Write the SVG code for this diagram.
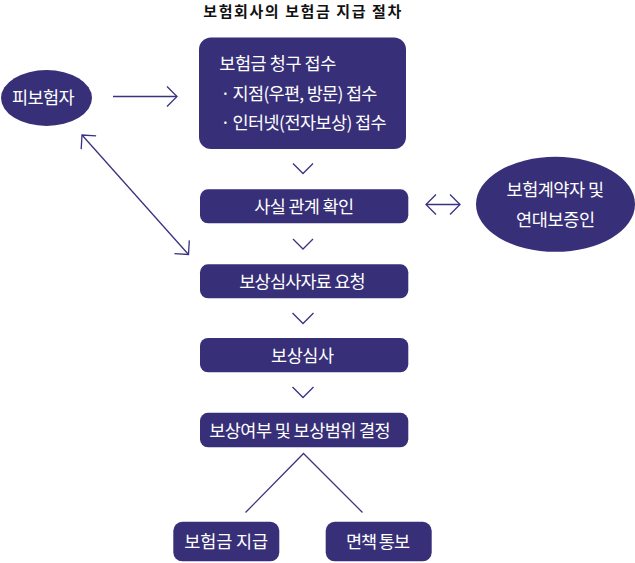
<svg xmlns="http://www.w3.org/2000/svg" width="635" height="563" viewBox="0 0 635 563">
<style>
.node{fill:#372f78;}
.t{font-family:"Noto Sans CJK KR","Noto Sans",sans-serif;font-size:17.5px;fill:#ffffff;}
.title{font-family:"Noto Sans CJK KR","Noto Sans",sans-serif;font-size:15px;font-weight:bold;fill:#111111;}
.ln{fill:none;stroke:#3a3380;stroke-width:1.3;}
</style>
<defs>
<marker id="ah" viewBox="-12 -12 14 24" markerWidth="14" markerHeight="24" refX="0" refY="0" orient="auto-start-reverse" markerUnits="userSpaceOnUse">
<path d="M-10,-10 L0,0 L-10,10" fill="none" stroke="#3a3380" stroke-width="1.3"/>
</marker>
</defs>
<rect width="635" height="563" fill="#ffffff"/>
<text class="title" x="203.3" y="17" textLength="198" lengthAdjust="spacing">보험회사의 보험금 지급 절차</text>

<g id="connectors">
<line class="ln" x1="113" y1="96.5" x2="177" y2="96.5" marker-end="url(#ah)"/>
<line class="ln" x1="82" y1="135" x2="188.5" y2="254.5" marker-start="url(#ah)" marker-end="url(#ah)"/>
<line class="ln" x1="426" y1="204.5" x2="460" y2="204.5" marker-start="url(#ah)" marker-end="url(#ah)"/>
<polyline class="ln" points="293,163.5 303,173.5 313,163.5"/>
<polyline class="ln" points="293,239 303,249 313,239"/>
<polyline class="ln" points="292.5,313 303,323.5 313.5,313"/>
<polyline class="ln" points="292.5,387 303,397.5 313.5,387"/>
<polyline class="ln" points="245.5,512.5 303.5,453.5 362.5,512.5"/>
</g>

<g id="node-insured">
<ellipse class="node" cx="46.5" cy="98" rx="45.5" ry="28"/>
<text class="t" x="12" y="104" textLength="62.7" lengthAdjust="spacing">피보험자</text>
</g>

<g id="node-claim">
<rect class="node" x="199" y="37.5" width="207" height="111.5" rx="12"/>
<text class="t" x="219.3" y="70" textLength="117" lengthAdjust="spacing">보험금 청구 접수</text>
<text class="t" x="220.5" y="99.5">·</text>
<text class="t" x="232.6" y="99.5" textLength="144.8" lengthAdjust="spacing">지점(우편, 방문) 접수</text>
<text class="t" x="220.5" y="129">·</text>
<text class="t" x="232.6" y="129" textLength="154" lengthAdjust="spacing">인터넷(전자보상) 접수</text>
</g>

<g id="node-fact">
<rect class="node" x="200" y="189.3" width="208.3" height="34" rx="8"/>
<text class="t" x="254.3" y="212.5" textLength="99.7" lengthAdjust="spacing">사실 관계 확인</text>
</g>

<g id="node-guarantor">
<ellipse class="node" cx="555.5" cy="204.3" rx="79.5" ry="47.5"/>
<text class="t" x="506.6" y="196" textLength="97.4" lengthAdjust="spacing">보험계약자 및</text>
<text class="t" x="516" y="226" textLength="79" lengthAdjust="spacing">연대보증인</text>
</g>

<g id="node-request">
<rect class="node" x="200" y="264.3" width="208.3" height="34" rx="8"/>
<text class="t" x="239.3" y="287.5" textLength="126.4" lengthAdjust="spacing">보상심사자료 요청</text>
</g>

<g id="node-review">
<rect class="node" x="200" y="338" width="208.3" height="34.3" rx="8"/>
<text class="t" x="271" y="361.5" textLength="63" lengthAdjust="spacing">보상심사</text>
</g>

<g id="node-decision">
<rect class="node" x="200" y="412.8" width="208.3" height="34.5" rx="8"/>
<text class="t" x="209.3" y="436.5" textLength="181.4" lengthAdjust="spacing">보상여부 및 보상범위 결정</text>
</g>

<g id="node-pay">
<rect class="node" x="173.3" y="521.8" width="106" height="39.5" rx="9"/>
<text class="t" x="184.3" y="548" textLength="83.7" lengthAdjust="spacing">보험금 지급</text>
</g>

<g id="node-exempt">
<rect class="node" x="325.7" y="521.8" width="106" height="39.5" rx="9"/>
<text class="t" x="346" y="548" textLength="64" lengthAdjust="spacing">면책 통보</text>
</g>
</svg>
